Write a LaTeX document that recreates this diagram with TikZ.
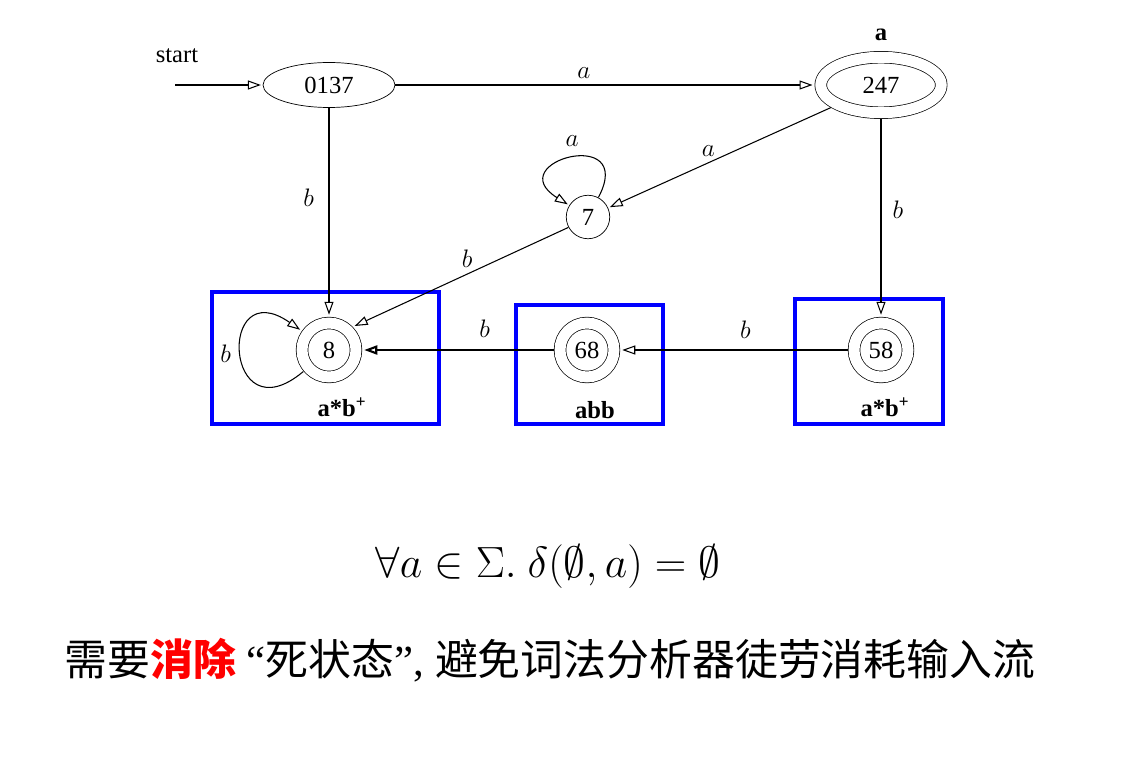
\documentclass[tikz,border=0pt]{standalone}
\usepackage[no-math]{fontspec}
\setmainfont{Liberation Serif}
\newfontfamily\cjk{Noto Sans CJK SC}
\usetikzlibrary{arrows.meta,shapes.geometric,positioning}

\begin{document}
\begin{tikzpicture}[x=0.02cm,y=-0.02cm,->,>={Triangle[open,length=2.6mm,width=1.8mm]},
    shorten >=1pt,semithick,
    every node/.style={font=\fontsize{14}{16}\selectfont},
    state/.style={circle,draw,thin,inner sep=0pt,minimum size=0.87cm},
    accept/.style={state,double,double distance=0.22cm,minimum size=1.08cm,outer sep=0.13cm},
    first/.style={ellipse,draw,thin,inner sep=0pt,minimum width=2.64cm,minimum height=0.9cm},
    final/.style={ellipse,draw,thin,double,double distance=0.22cm,inner sep=0pt,
      minimum width=2.41cm,minimum height=1.11cm,outer sep=0.13cm},
    lbl/.style={font=\fontsize{14}{16}\selectfont},
    tag/.style={font=\fontsize{14}{16}\selectfont\bfseries},
    groupbox/.style={-,draw=blue,line width=2.8pt}]
  \useasboundingbox (0,0) rectangle (1130,770);

  % blue groups
  \draw[groupbox] (212,292) rectangle (439,424);
  \draw[groupbox] (516,305) rectangle (663,424);
  \draw[groupbox] (795,299) rectangle (943,424);

  \node[first]  (s0137) at (329,85)  {0137};
  \node[final]  (s247)  at (881,85)  {247};
  \node[state]  (s7)    at (588,217) {7};
  \node[accept] (s8)    at (329,350) {8};
  \node[accept] (s68)   at (587,350) {68};
  \node[accept] (s58)   at (881,350) {58};

  \node (start) at (177,56) {start};
  \coordinate (in) at (175,85);
  \node[tag,above=2pt of s247] (acc) {a};
  \node[tag] (t8)  at (342,407) {a*b\textsuperscript{+}};
  \node[tag] (t68) at (595,410) {abb};
  \node[tag] (t58) at (885,407) {a*b\textsuperscript{+}};

  \draw (in) -- (s0137);
  \path (s0137) edge node[lbl,above,pos=0.45] {$a$} (s247)
                edge node[lbl,left=5pt,pos=0.43] {$b$} (s8);
  \path (s247) edge node[lbl,above,pos=0.55] {$a$} (s7)
               edge node[lbl,right=3pt,pos=0.46] {$b$} (s58);
  \path (s7) edge [loop,out=62,in=148,looseness=7] node[lbl,above=3pt] {$a$} (s7);
  \path (s7.208) edge node[lbl,above,pos=0.47] {$b$} (s8.44);
  \path (s8) edge [loop,out=220,in=145,looseness=6.5] node[lbl,left=2pt] {$b$} (s8);
  \path (s68) edge [line width=1.2pt] node[lbl,above=3pt,pos=0.36] {$b$} (s8);
  \path (s58) edge node[lbl,above=3pt,pos=0.45] {$b$} (s68);

  \node[font=\fontsize{24.88}{30}\selectfont] (rule) at (548,567)
    {$\forall a \in \Sigma.\ \delta(\emptyset, a) = \emptyset$};
  \node[font=\fontsize{24.4}{28}\selectfont] (note) at (550,660)
    {\cjk 需要\textcolor{red}{\bfseries 消除}{\rmfamily\ “}死状态{\rmfamily ”, }避免词法分析器徒劳消耗输入流};
\end{tikzpicture}
\end{document}
